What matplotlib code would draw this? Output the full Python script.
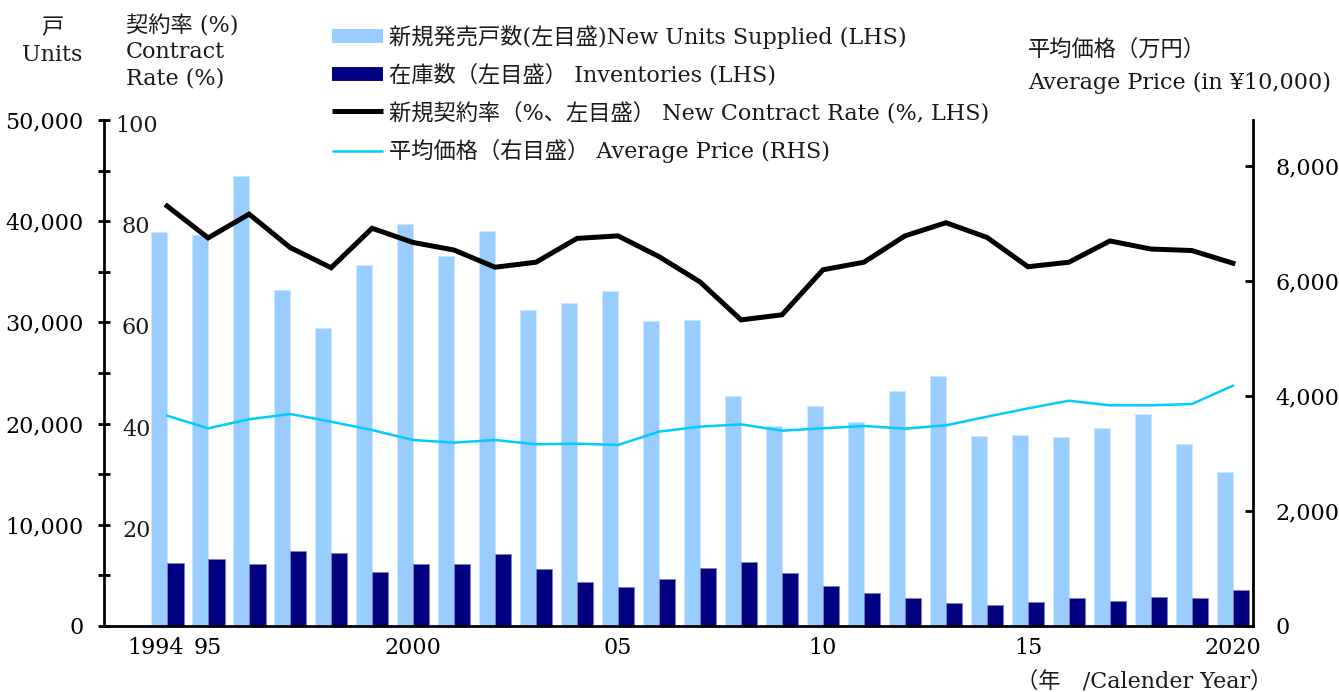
"""
New condo supply, inventories, contract rate and average price, 1994-2020.
"""
import numpy as np
import matplotlib.pyplot as plt
import matplotlib.transforms as mtransforms
from matplotlib.lines import Line2D
from matplotlib.ticker import FuncFormatter

plt.rcParams['font.family'] = ['DejaVu Serif', 'Noto Sans CJK JP']
plt.rcParams['font.size'] = 16
plt.rcParams['text.color'] = '#1a1a1a'

years = list(range(1994, 2021))
new_units = [38930, 38600, 44430, 33170, 29440, 35640, 39720, 36560, 39060, 31220,
             31880, 33070, 30130, 30200, 22750, 19760, 21710, 20190, 23220, 24700,
             18800, 18870, 18640, 19530, 20950, 18010, 15190]
inventories = [6220, 6590, 6160, 7410, 7180, 5300, 6090, 6130, 7150, 5630,
               4310, 3820, 4610, 5730, 6290, 5200, 3920, 3290, 2730, 2270,
               2040, 2370, 2730, 2500, 2870, 2770, 3560]
contract_rate = [83.0, 76.7, 81.4, 74.8, 70.8, 78.6, 75.8, 74.3, 70.9, 71.9,
                 76.6, 77.1, 73.0, 68.0, 60.5, 61.5, 70.4, 71.9, 77.1, 79.7,
                 76.8, 71.0, 71.9, 76.1, 74.5, 74.2, 71.7]
avg_price = [3657, 3438, 3595, 3687, 3553, 3408, 3235, 3188, 3235, 3160,
             3171, 3148, 3380, 3467, 3507, 3397, 3438, 3478, 3432, 3490,
             3640, 3785, 3918, 3838, 3838, 3861, 4179]
tick_pos = [0, 1, 6, 11, 16, 21, 26]
tick_labels = ['1994', '95', '2000', '05', '10', '15', '2020']
rate_labels = [20, 40, 60, 80, 100]

light = '#99ccff'
navy = '#000080'
cyan = '#00ccff'

fig = plt.figure(figsize=(13.39, 6.92), dpi=100)
ax = fig.add_axes([104 / 1339, 1 - 626 / 692, (1253 - 104) / 1339, (626 - 120) / 692])
x = np.arange(len(years))
w = 0.4
ax.bar(x - w / 2, new_units, w, color=light, edgecolor='#cfe6ff', linewidth=0.6)
ax.bar(x + w / 2, inventories, w, color=navy, edgecolor='#8080c0', linewidth=0.6)
# contract rate (0-100) drawn on the units scale (0-50,000)
ax.plot(x, np.array(contract_rate) * 500, color='black', lw=3.6, solid_joinstyle='miter')
ax.set_xlim(-1.54, 26.49)
ax.set_ylim(0, 50000)

ax.spines['top'].set_visible(False)
ax.spines['right'].set_visible(False)
for s in ['left', 'bottom']:
    ax.spines[s].set_linewidth(2)
ax.set_yticks(np.arange(0, 50001, 5000))
ax.yaxis.set_major_formatter(FuncFormatter(lambda v, p: f'{int(v):,}' if v % 10000 == 0 else ''))
ax.tick_params(axis='y', direction='inout', length=9, width=2, pad=10, labelsize=16)
ax.set_xticks(tick_pos)
ax.set_xticklabels(tick_labels)
ax.tick_params(axis='x', length=0, pad=8, labelsize=16)
# nudge 1994 label to the left
shift = mtransforms.ScaledTranslation(-12 / 100, 0, fig.dpi_scale_trans)
lbl = ax.get_xticklabels()[0]
lbl.set_transform(lbl.get_transform() + shift)

# inner contract-rate labels
off = mtransforms.ScaledTranslation(0, -6 / 100, fig.dpi_scale_trans)
for r in rate_labels:
    ax.text(0.028, r * 500, str(r), transform=ax.get_yaxis_transform() + off,
            ha='center', va='center', fontsize=16)

ax2 = ax.twinx()
ax2.plot(x, avg_price, color=cyan, lw=1.8)
ax2.set_ylim(0, 8800)
ax2.spines['top'].set_visible(False)
ax2.spines['left'].set_visible(False)
ax2.spines['bottom'].set_visible(False)
ax2.spines['right'].set_linewidth(2)
ax2.set_yticks(np.arange(0, 8001, 2000))
ax2.yaxis.set_major_formatter(FuncFormatter(lambda v, p: f'{int(v):,}'))
ax2.tick_params(axis='y', direction='in', length=6, width=2, pad=16, labelsize=16)

# headers
fig.text(52 / 1339, 1 - 17 / 692, '戸\nUnits', ha='center', va='top', fontsize=16, linespacing=1.3)
fig.text(126 / 1339, 1 - 15 / 692, '契約率 (%)\nContract\nRate (%)', ha='left', va='top',
         fontsize=16, linespacing=1.25)
fig.text(1028 / 1339, 1 - 39 / 692, '平均価格（万円）\nAverage Price (in ¥10,000)', ha='left', va='top',
         fontsize=16, linespacing=1.65)
fig.text(1272 / 1339, 1 - 682 / 692, '（年　/Calender Year）', ha='right', va='center', fontsize=16)

handles = [Line2D([], [], color=light, lw=10, solid_capstyle='butt'),
           Line2D([], [], color=navy, lw=10, solid_capstyle='butt'),
           Line2D([], [], color='black', lw=3.6, solid_capstyle='butt'),
           Line2D([], [], color=cyan, lw=1.8, solid_capstyle='butt')]
labels = ['新規発売戸数(左目盛)New Units Supplied (LHS)',
          '在庫数（左目盛） Inventories (LHS)',
          '新規契約率（%、左目盛） New Contract Rate (%, LHS)',
          '平均価格（右目盛） Average Price (RHS)']
fig.legend(handles, labels, loc='upper left', bbox_to_anchor=(332 / 1339, 1 - 25 / 692),
           frameon=False, borderpad=0, borderaxespad=0, handlelength=2.3,
           handletextpad=0.25, labelspacing=0.68, fontsize=16)

fig.savefig('out.png', dpi=100)
